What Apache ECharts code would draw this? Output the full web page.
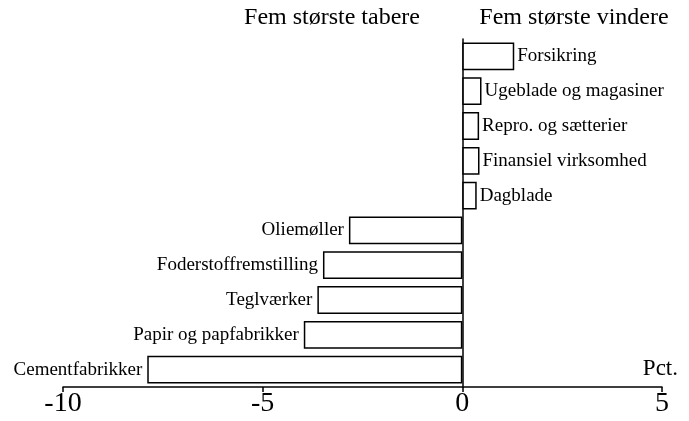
<!DOCTYPE html>
<html><head><meta charset="utf-8">
<script src="https://cdn.jsdelivr.net/npm/echarts@6/dist/echarts.min.js"></script>
<style>html,body{margin:0;padding:0;background:#fff}#c{width:689px;height:421px}</style>
</head><body><div id="c"></div>
<script>
const categories = ["Forsikring","Ugeblade og magasiner","Repro. og sætterier","Finansiel virksomhed","Dagblade","Oliemøller","Foderstoffremstilling","Teglværker","Papir og papfabrikker","Cementfabrikker"];
const values = [1.3, 0.48, 0.42, 0.43, 0.36, -2.84, -3.49, -3.63, -3.97, -7.89];
const xTicks = [-10, -5, 0, 5];
const titles = ["Fem største tabere", "Fem største vindere"];
const unitLabel = "Pct.";

const font = "'Liberation Serif', 'DejaVu Serif', serif";
const chart = echarts.init(document.getElementById('c'), null, {renderer:'canvas'});
chart.setOption({
  backgroundColor: '#fff',
  animation: false,
  graphic: [
    {type:'text', x: 332, y: 18, style:{text: titles[0], font: "24px " + font, fill:'#000', textAlign:'center', textVerticalAlign:'middle'}},
    {type:'text', x: 574, y: 18, style:{text: titles[1], font: "24px " + font, fill:'#000', textAlign:'center', textVerticalAlign:'middle'}}
  ],
  grid: {left: 63, right: 27, top: 39, bottom: 34, containLabel: false},
  xAxis: {
    type: 'value', min: xTicks[0], max: xTicks[xTicks.length-1], interval: 5,
    name: unitLabel, nameLocation: 'end', nameGap: 0,
    nameTextStyle: {fontFamily: font, fontSize: 23, color:'#000', align:'right', verticalAlign:'bottom', padding:[0,-16,7,0]},
    axisLine: {show: true, onZero: false, lineStyle:{color:'#000', width:1.5}},
    axisTick: {show: true, length: 5, lineStyle:{color:'#000', width:1.5}},
    axisLabel: {fontFamily: font, fontSize: 28, color:'#000', margin: 3},
    splitLine: {show: false}
  },
  yAxis: {
    type: 'category', data: categories, inverse: true,
    axisLine: {show: true, onZero: true, lineStyle:{color:'#000', width:1.5}},
    axisTick: {show: false}, axisLabel: {show: false}, splitLine:{show:false}
  },
  series: [{
    type: 'bar',
    barCategoryGap: '20%',
    data: values.map(v => ({
      value: v,
      label: {show: true, position: v >= 0 ? 'right' : 'left', distance: v >= 0 ? 3 : 5,
              formatter: p => p.name, fontFamily: font, fontSize: 19, color: '#000'}
    })),
    itemStyle: {color: '#fff', borderColor: '#000', borderWidth: 1.5}
  }]
});
</script></body></html>
